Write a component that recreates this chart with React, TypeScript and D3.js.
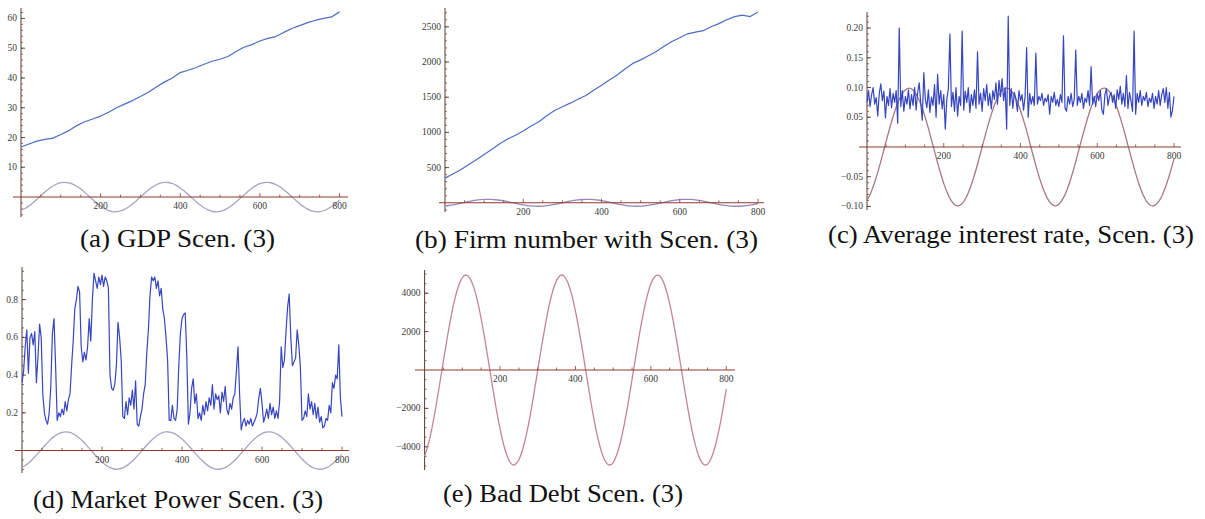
import React from 'react';
import * as d3 from 'd3';

// time axis of every panel runs 0..800
const xLabels = [200, 400, 600, 800];

// (a) GDP, read every 20 periods
const gdp = [
  16.8, 17.8, 18.8, 19.4, 19.8, 21.0, 22.3, 24.0, 25.3, 26.2,
  27.2, 28.5, 30.0, 31.2, 32.4, 33.8, 35.2, 37.0, 38.6, 40.0,
  41.8, 42.6, 43.5, 44.6, 45.6, 46.3, 47.2, 48.9, 50.3, 51.2,
  52.4, 53.3, 53.9, 55.3, 56.6, 57.6, 58.6, 59.4, 60.0, 60.5,
  62.2,
];

// (b) number of firms, read every 20 periods
const firms = [
  350, 410, 470, 540, 610, 685, 760, 840, 905, 960,
  1020, 1090, 1150, 1235, 1310, 1365, 1415, 1470, 1525, 1600,
  1670, 1745, 1815, 1900, 1980, 2030, 2090, 2150, 2225, 2290,
  2345, 2400, 2425, 2445, 2500, 2545, 2600, 2645, 2665, 2645,
  2710,
];

// (c) average interest rate, read every 4 periods
const interest = [
  0.075, 0.095, 0.068, 0.088, 0.100, 0.072, 0.083, 0.052, 0.090, 0.106,
  0.078, 0.094, 0.049, 0.085, 0.070, 0.098, 0.066, 0.090, 0.075, 0.095,
  0.040, 0.200, 0.068, 0.095, 0.060, 0.085, 0.072, 0.096, 0.064, 0.088,
  0.070, 0.100, 0.062, 0.092, 0.108, 0.075, 0.045, 0.125, 0.080, 0.066,
  0.096, 0.058, 0.084, 0.070, 0.105, 0.050, 0.122, 0.072, 0.095, 0.064,
  0.088, 0.030, 0.080, 0.098, 0.190, 0.068, 0.092, 0.060, 0.100, 0.052,
  0.085, 0.070, 0.195, 0.062, 0.094, 0.075, 0.100, 0.058, 0.088, 0.070,
  0.096, 0.065, 0.160, 0.072, 0.090, 0.060, 0.098, 0.078, 0.105, 0.070,
  0.090, 0.064, 0.095, 0.080, 0.108, 0.072, 0.112, 0.085, 0.115, 0.078,
  0.100, 0.030, 0.220, 0.070, 0.098, 0.065, 0.092, 0.080, 0.060, 0.095,
  0.078, 0.088, 0.062, 0.085, 0.167, 0.050, 0.090, 0.072, 0.085, 0.070,
  0.158, 0.072, 0.085, 0.078, 0.090, 0.070, 0.082, 0.076, 0.088, 0.055,
  0.085, 0.075, 0.092, 0.070, 0.080, 0.068, 0.088, 0.075, 0.187, 0.065,
  0.060, 0.085, 0.072, 0.090, 0.068, 0.080, 0.163, 0.070, 0.085, 0.075,
  0.090, 0.065, 0.082, 0.075, 0.095, 0.070, 0.135, 0.072, 0.085, 0.068,
  0.090, 0.078, 0.095, 0.062, 0.055, 0.088, 0.098, 0.070, 0.085, 0.092,
  0.075, 0.088, 0.065, 0.096, 0.080, 0.102, 0.072, 0.090, 0.068, 0.120,
  0.065, 0.092, 0.078, 0.060, 0.195, 0.055, 0.090, 0.075, 0.095, 0.070,
  0.085, 0.078, 0.092, 0.068, 0.082, 0.075, 0.090, 0.065, 0.085, 0.072,
  0.095, 0.070, 0.088, 0.098, 0.075, 0.100, 0.065, 0.092, 0.050, 0.062,
  0.085,
];

// (d) market power, read every 4 periods
const marketPower = [
  0.36, 0.42, 0.55, 0.64, 0.41, 0.60, 0.62, 0.56, 0.63, 0.36,
  0.50, 0.67, 0.60, 0.30, 0.20, 0.16, 0.14, 0.20, 0.34, 0.62,
  0.70, 0.45, 0.16, 0.20, 0.18, 0.22, 0.19, 0.26, 0.21, 0.27,
  0.30, 0.45, 0.58, 0.75, 0.80, 0.87, 0.84, 0.55, 0.47, 0.52,
  0.48, 0.55, 0.70, 0.58, 0.80, 0.94, 0.90, 0.86, 0.92, 0.88,
  0.93, 0.87, 0.92, 0.90, 0.86, 0.40, 0.33, 0.32, 0.35, 0.45,
  0.68, 0.60, 0.48, 0.18, 0.17, 0.26, 0.19, 0.28, 0.24, 0.32,
  0.22, 0.37, 0.14, 0.13, 0.18, 0.22, 0.30, 0.35, 0.52, 0.64,
  0.82, 0.92, 0.90, 0.92, 0.86, 0.90, 0.82, 0.86, 0.75, 0.70,
  0.60, 0.48, 0.16, 0.16, 0.24, 0.17, 0.16, 0.22, 0.45, 0.62,
  0.70, 0.72, 0.73, 0.50, 0.14, 0.20, 0.33, 0.38, 0.25, 0.30,
  0.17, 0.20, 0.16, 0.24, 0.19, 0.26, 0.21, 0.28, 0.24, 0.35,
  0.22, 0.30, 0.27, 0.29, 0.20, 0.31, 0.26, 0.34, 0.22, 0.19,
  0.25, 0.22, 0.28, 0.30, 0.42, 0.55, 0.30, 0.11, 0.15, 0.17,
  0.13, 0.16, 0.14, 0.17, 0.13, 0.15, 0.17, 0.20, 0.28, 0.33,
  0.25, 0.15, 0.18, 0.22, 0.17, 0.25, 0.19, 0.23, 0.17, 0.21,
  0.17, 0.26, 0.55, 0.44, 0.48, 0.63, 0.76, 0.83, 0.60, 0.45,
  0.47, 0.49, 0.64, 0.56, 0.44, 0.16, 0.17, 0.21, 0.18, 0.30,
  0.22, 0.26, 0.19, 0.25, 0.17, 0.23, 0.15, 0.18, 0.12, 0.13,
  0.17, 0.16, 0.24, 0.20, 0.36, 0.33, 0.40, 0.38, 0.56, 0.28,
  0.18,
];

// (e) bad debt, read every 10 periods (also drawn, rescaled, under a-d)
const badDebt = [
  -4490, -3850, -2970, -1910, -730, 490, 1680, 2770, 3690, 4380,
  4810, 4950, 4790, 4330, 3610, 2670, 1570, 370, -850, -2020,
  -3060, -3920, -4540, -4890, -4930, -4680, -4140, -3350, -2360, -1220,
  -10, 1200, 2340, 3340, 4130, 4670, 4930, 4890, 4550, 3930,
  3070, 2030, 870, -360, -1550, -2660, -3600, -4320, -4780, -4950,
  -4820, -4390, -3700, -2780, -1700, -500, 720, 1890, 2960, 3840,
  4490, 4860, 4940, 4720, 4210, 3450, 2470, 1350, 140, -1070,
  -2220, -3240, -4060, -4630, -4920, -4910, -4600, -4010, -3180, -2150,
  -1000,
];

const gdpTicks = [10, 20, 30, 40, 50, 60];
const firmTicks = [500, 1000, 1500, 2000, 2500];
const rateTicks = [-0.1, -0.05, 0.05, 0.1, 0.15, 0.2];
const powerTicks = [0.2, 0.4, 0.6, 0.8];
const debtTicks = [-4000, -2000, 2000, 4000];

const minus = (s: string) => s.replace('-', '\u2212');

const panels = [
  {
    id: 'a', values: gdp, step: 20, xRange: [21, 339.5], xAxis: [13, 348],
    yDomain: [-6.7, 63.5], yRange: [217, 8], yTicks: gdpTicks, yMinor: 2,
    fmt: d3.format('d'), debtScale: 0.001, sineColor: '#aaa3c2', lineColor: '#4d6cc6',
    caption: '(a) GDP Scen. (3)', capX: 177.5, capY: 246.5, capW: 195,
  },
  {
    id: 'b', values: firms, step: 20, xRange: [445, 758], xAxis: [439, 764],
    yDomain: [-131, 2767], yRange: [212, 8], yTicks: firmTicks, yMinor: 100,
    fmt: d3.format('d'), debtScale: 0.01, sineColor: '#9a86b8', lineColor: '#4d6cc6',
    caption: '(b) Firm number with Scen. (3)', capX: 586.5, capY: 247.5, capW: 343,
  },
  {
    id: 'c', values: interest, step: 4, xRange: [867, 1174], xAxis: [859, 1181],
    yDomain: [-0.106, 0.227], yRange: [210, 12], yTicks: rateTicks, yMinor: 0.01,
    fmt: d3.format('.2f'), debtScale: 0.00002, sineColor: '#a87888', lineColor: '#3646c0',
    caption: '(c) Average interest rate, Scen. (3)', capX: 1011, capY: 243, capW: 366,
  },
  {
    id: 'd', values: marketPower, step: 4, xRange: [22, 342], xAxis: [15, 349],
    yDomain: [-0.119, 0.973], yRange: [473, 267], yTicks: powerTicks, yMinor: 0.05,
    fmt: d3.format('.1f'), debtScale: 0.00002, sineColor: '#aaa3c2', lineColor: '#3646c0',
    caption: '(d) Market Power Scen. (3)', capX: 178, capY: 507.5, capW: 290,
  },
  {
    id: 'e', values: null, step: 10, xRange: [424.6, 726.3], xAxis: [415, 735],
    yDomain: [-5210, 5210], yRange: [470, 270], yTicks: debtTicks, yMinor: 500,
    fmt: d3.format('d'), debtScale: 1, sineColor: '#c5849a', lineColor: '#3646c0',
    caption: '(e) Bad Debt Scen. (3)', capX: 563, capY: 501.5, capW: 240,
  },
];

const serif = "'Liberation Serif', 'DejaVu Serif', serif";
const xAxisColor = '#8e3a2c';
const yAxisColor = '#5b3a32';

function Panel({ p }: { p: any }) {
  const x = d3.scaleLinear().domain([0, 800]).range(p.xRange);
  const y = d3.scaleLinear().domain(p.yDomain).range(p.yRange);
  const y0 = y(0);
  const x0 = x(0);

  const series = d3.line<number>()
    .x((_, i) => x(i * p.step))
    .y(d => y(d));
  const debt = d3.line<number>()
    .x((_, i) => x(i * 10))
    .y(d => y(d * p.debtScale))
    .curve(d3.curveNatural);

  const minorX = d3.range(50, 801, 50);
  const lo = Math.ceil(p.yDomain[0] / p.yMinor);
  const hi = Math.floor(p.yDomain[1] / p.yMinor);
  const minorY = d3.range(lo, hi + 1).map(k => k * p.yMinor).filter(v => Math.abs(v) > 1e-9);

  return (
    <g>
      {/* y axis */}
      <line x1={x0} x2={x0} y1={p.yRange[0]} y2={p.yRange[1]} stroke={yAxisColor} strokeWidth={1} />
      {minorY.map(v => (
        <line key={'my' + v} x1={x0} x2={x0 + 2} y1={y(v)} y2={y(v)} stroke={yAxisColor} strokeWidth={0.7} />
      ))}
      {p.yTicks.map((v: number) => (
        <g key={'y' + v}>
          <line x1={x0} x2={x0 + 4} y1={y(v)} y2={y(v)} stroke={yAxisColor} strokeWidth={0.9} />
          <text x={x0 - 4} y={y(v)} textAnchor="end" dominantBaseline="central"
            style={{ fontFamily: serif }} fontSize={9.5} fill="#3a3a3a">{minus(p.fmt(v))}</text>
        </g>
      ))}

      {/* rescaled bad debt curve */}
      <path d={debt(badDebt) || ''} fill="none" stroke={p.sineColor} strokeWidth={1.3} />

      {/* main series */}
      {p.values && (
        <path d={series(p.values) || ''} fill="none" stroke={p.lineColor} strokeWidth={1.2} strokeLinejoin="round" />
      )}

      {/* x axis */}
      <line x1={p.xAxis[0]} x2={p.xAxis[1]} y1={y0} y2={y0} stroke={xAxisColor} strokeWidth={1.1} />
      {minorX.map(t => (
        <line key={'mx' + t} x1={x(t)} x2={x(t)} y1={y0} y2={y0 - (t % 200 === 0 ? 4 : 2.5)}
          stroke={xAxisColor} strokeWidth={0.8} />
      ))}
      {xLabels.map(t => (
        <text key={'x' + t} x={x(t)} y={y0 + 9} textAnchor="middle" dominantBaseline="central"
          style={{ fontFamily: serif }} fontSize={9.5} fill="#3a3a3a">{t}</text>
      ))}

      <text x={p.capX} y={p.capY} textAnchor="middle" style={{ fontFamily: serif }} fontSize={26}
        textLength={p.capW} lengthAdjust="spacingAndGlyphs" fill="#111">{p.caption}</text>
    </g>
  );
}

export default function App() {
  return (
    <svg width={1205} height={519} style={{ position: 'absolute', left: 0, top: 0, background: '#fff' }}>
      <rect width={1205} height={519} fill="#fff" />
      {panels.map(p => <Panel key={p.id} p={p} />)}
    </svg>
  );
}
